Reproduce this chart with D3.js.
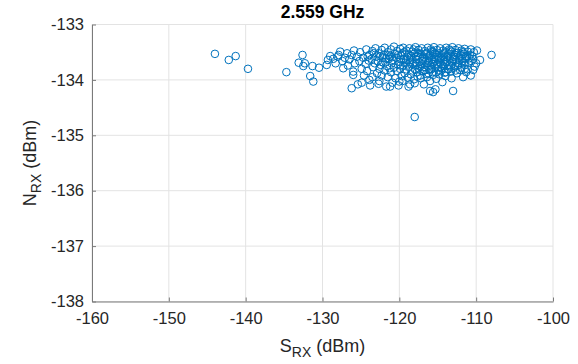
<!DOCTYPE html>
<html>
<head>
<meta charset="utf-8">
<script src="https://cdn.jsdelivr.net/npm/d3@7"></script>
<style>
  body { margin: 0; background: #fff; }
  text { font-family: "Liberation Sans", Arial, sans-serif; }
</style>
</head>
<body>
<div id="chart"></div>
<script>
// axis ticks
const xTicks = [-160, -150, -140, -130, -120, -110, -100];
const yTicks = [-138, -137, -136, -135, -134, -133];

// sparse points on the left
const tailPoints = [
  [-144.0, -133.53], [-142.2, -133.64], [-141.3, -133.57], [-139.7, -133.80],
  [-134.7, -133.86], [-133.1, -133.69], [-132.6, -133.55], [-132.3, -133.70],
  [-132.5, -133.75], [-131.3, -133.75], [-131.6, -133.93], [-131.2, -134.03],
  [-130.45, -133.78], [-129.3, -133.64], [-129.45, -133.73], [-129.0, -133.57],
  [-128.0, -133.58], [-127.7, -133.49], [-127.1, -133.60], [-126.2, -133.55],
  [-127.3, -133.79], [-126.0, -133.91], [-128.6, -133.62], [-128.3, -133.70]
];

// main cluster
const clusterPoints = [
  [-127.9, -133.55], [-127.4, -133.66], [-126.8, -133.52], [-126.7, -133.74], [-126.5, -133.63],
  [-125.9, -133.47], [-125.8, -133.70], [-126.0, -133.85], [-125.5, -133.58], [-125.4, -134.08],
  [-125.1, -133.50], [-125.2, -133.66], [-124.9, -133.80], [-124.7, -133.60], [-124.6, -133.92],
  [-124.3, -133.45], [-124.4, -133.71], [-124.2, -133.84], [-123.9, -133.55], [-124.0, -133.65],
  [-123.8, -134.10], [-123.5, -133.48], [-123.6, -133.62], [-123.4, -133.77], [-123.5, -133.95],
  [-123.1, -133.43], [-123.0, -133.58], [-123.2, -133.70], [-122.9, -133.88], [-122.7, -133.52],
  [-122.8, -133.66], [-122.6, -133.80], [-122.7, -134.07], [-122.3, -133.46], [-122.2, -133.60],
  [-122.4, -133.73], [-122.3, -133.92], [-121.9, -133.42], [-122.0, -133.55], [-121.8, -133.68],
  [-121.9, -133.83], [-121.7, -134.12], [-121.5, -133.50], [-121.4, -133.62], [-121.6, -133.75],
  [-121.5, -133.95], [-121.1, -133.45], [-121.2, -133.58], [-121.0, -133.70], [-121.1, -133.86],
  [-120.9, -134.05], [-120.7, -133.40], [-120.6, -133.53], [-120.8, -133.64], [-120.7, -133.78],
  [-120.5, -133.97], [-120.3, -133.48], [-120.4, -133.60], [-120.2, -133.72], [-120.3, -133.84],
  [-120.1, -134.10], [-119.9, -133.44], [-119.8, -133.56], [-120.0, -133.67], [-119.9, -133.80],
  [-119.7, -133.93], [-119.5, -133.42], [-119.6, -133.52], [-119.4, -133.62], [-119.5, -133.74],
  [-119.3, -133.88], [-119.6, -134.02], [-119.1, -133.47], [-119.0, -133.58], [-119.2, -133.69],
  [-119.1, -133.81], [-118.9, -133.96], [-118.7, -133.43], [-118.8, -133.54], [-118.6, -133.64],
  [-118.7, -133.76], [-118.5, -133.90], [-118.8, -134.12], [-118.3, -133.49], [-118.4, -133.60],
  [-118.2, -133.71], [-118.3, -133.83], [-118.1, -133.99], [-117.9, -133.41], [-118.0, -133.52],
  [-117.8, -133.63], [-117.9, -133.74], [-117.7, -133.86], [-118.0, -134.06], [-117.5, -133.46],
  [-117.6, -133.57], [-117.4, -133.68], [-117.5, -133.79], [-117.3, -133.92], [-117.1, -133.43],
  [-117.2, -133.53], [-117.0, -133.62], [-117.1, -133.72], [-116.9, -133.84], [-117.2, -133.97],
  [-116.7, -133.48], [-116.8, -133.58], [-116.6, -133.67], [-116.7, -133.77], [-116.5, -133.89],
  [-116.8, -134.08], [-116.3, -133.42], [-116.4, -133.51], [-116.2, -133.61], [-116.3, -133.70],
  [-116.1, -133.81], [-116.4, -133.95], [-115.9, -133.45], [-116.0, -133.55], [-115.8, -133.64],
  [-115.9, -133.74], [-115.7, -133.86], [-116.0, -134.02], [-115.5, -133.41], [-115.6, -133.50],
  [-115.4, -133.59], [-115.5, -133.68], [-115.3, -133.78], [-115.6, -133.91], [-115.1, -133.46],
  [-115.2, -133.55], [-115.0, -133.63], [-115.1, -133.72], [-114.9, -133.83], [-115.2, -133.98],
  [-114.7, -133.43], [-114.8, -133.52], [-114.6, -133.60], [-114.7, -133.69], [-114.5, -133.79],
  [-114.8, -133.90], [-114.3, -133.47], [-114.4, -133.56], [-114.2, -133.65], [-114.3, -133.75],
  [-114.1, -133.87], [-114.4, -134.04], [-113.9, -133.42], [-114.0, -133.50], [-113.8, -133.59],
  [-113.9, -133.68], [-113.7, -133.80], [-114.0, -133.93], [-113.5, -133.45], [-113.6, -133.54],
  [-113.4, -133.63], [-113.5, -133.73], [-113.3, -133.85], [-113.1, -133.41], [-113.2, -133.49],
  [-113.0, -133.58], [-113.1, -133.67], [-112.9, -133.78], [-113.2, -133.97], [-112.7, -133.46],
  [-112.8, -133.55], [-112.6, -133.64], [-112.7, -133.75], [-112.5, -133.88], [-112.3, -133.43],
  [-112.4, -133.51], [-112.2, -133.60], [-112.3, -133.70], [-112.1, -133.82], [-111.9, -133.47],
  [-112.0, -133.56], [-111.8, -133.66], [-111.9, -133.78], [-111.7, -133.95], [-111.5, -133.44],
  [-111.6, -133.53], [-111.4, -133.62], [-111.5, -133.73], [-111.3, -133.86], [-111.1, -133.49],
  [-111.2, -133.58], [-111.0, -133.69], [-111.1, -133.81], [-110.7, -133.45], [-110.8, -133.55],
  [-110.6, -133.66], [-110.7, -133.92], [-110.3, -133.50], [-110.4, -133.62], [-110.2, -133.76],
  [-109.9, -133.47], [-110.0, -133.70], [-109.5, -133.64], [-108.0, -133.55],
  [-119.35, -133.50], [-118.15, -133.45], [-117.35, -133.60], [-116.55, -133.53], [-115.75, -133.48],
  [-114.95, -133.58], [-114.15, -133.52], [-113.35, -133.47], [-112.55, -133.52], [-111.75, -133.50],
  [-120.15, -133.55], [-121.35, -133.55], [-117.75, -133.70], [-116.15, -133.66], [-114.55, -133.72],
  [-112.95, -133.62], [-111.35, -133.58], [-118.55, -133.68], [-115.35, -133.52], [-113.75, -133.65],
  [-117.62, -133.51], [-116.93, -133.66], [-116.12, -133.57], [-115.48, -133.63], [-114.83, -133.61],
  [-114.22, -133.59], [-113.64, -133.57], [-112.87, -133.58], [-112.18, -133.65], [-111.61, -133.69],
  [-117.28, -133.76], [-116.41, -133.74], [-115.67, -133.71], [-114.91, -133.77], [-114.08, -133.72],
  [-113.27, -133.76], [-112.42, -133.74], [-111.83, -133.62], [-110.92, -133.61], [-110.53, -133.57],
  [-119.78, -133.63], [-119.12, -133.64], [-118.47, -133.57], [-117.83, -133.58], [-121.72, -133.61],
  [-120.94, -133.59], [-122.51, -133.57], [-123.32, -133.52], [-124.12, -133.58], [-118.94, -133.72],
  [-116.78, -133.82], [-115.86, -133.81], [-114.62, -133.84], [-113.58, -133.81], [-112.67, -133.83],
  [-117.96, -133.81], [-119.86, -133.74], [-121.28, -133.79], [-122.13, -133.68], [-115.22, -133.87],
  [-113.96, -133.86], [-111.48, -133.80], [-110.38, -133.82], [-116.21, -133.88], [-117.63, -133.94]
];

// lower outliers
const lowPoints = [
  [-126.2, -134.15], [-124.9, -134.05], [-123.9, -134.00], [-122.6, -134.02], [-121.2, -134.12],
  [-120.0, -134.03], [-118.6, -134.08], [-116.0, -134.20], [-115.6, -134.22], [-115.3, -134.17],
  [-113.0, -134.20], [-118.0, -134.67]
];

const allPoints = tailPoints.concat(clusterPoints, lowPoints);

const W = 578, H = 364;
const margin = {top: 24.5, right: 25, bottom: 62.5, left: 92};
const width = W - margin.left - margin.right,
      height = H - margin.top - margin.bottom;

const svg = d3.select("#chart").append("svg")
    .attr("width", W)
    .attr("height", H);

const g = svg.append("g")
    .attr("transform", `translate(${margin.left},${margin.top})`);

const x = d3.scaleLinear().domain([-160, -100]).range([0, width]);
const y = d3.scaleLinear().domain([-138, -133]).range([height, 0]);

// grid
g.append("g").selectAll("line")
  .data(xTicks)
  .join("line")
    .attr("x1", d => x(d)).attr("x2", d => x(d))
    .attr("y1", 0).attr("y2", height)
    .attr("stroke", "#e3e3e3").attr("stroke-width", 1);
g.append("g").selectAll("line")
  .data(yTicks)
  .join("line")
    .attr("x1", 0).attr("x2", width)
    .attr("y1", d => y(d)).attr("y2", d => y(d))
    .attr("stroke", "#e3e3e3").attr("stroke-width", 1);

// axes (ticks inside like matlab)
const fmt = d => String(d);
const xAxis = g.append("g")
    .attr("transform", `translate(0,${height})`)
    .call(d3.axisBottom(x).tickValues(xTicks).tickFormat(fmt).tickSizeInner(-4).tickSizeOuter(0).tickPadding(8));
const yAxis = g.append("g")
    .call(d3.axisLeft(y).tickValues(yTicks).tickFormat(fmt).tickSizeInner(-4).tickSizeOuter(0).tickPadding(8));

[xAxis, yAxis].forEach(a => {
  a.select(".domain").attr("stroke", "#7a7a7a");
  a.selectAll(".tick line").attr("stroke", "#7a7a7a");
  a.selectAll(".tick text")
    .attr("fill", "#262626")
    .style("font-size", "16.5px")
    .style("font-family", "'Liberation Sans', Arial, sans-serif");
});
xAxis.selectAll(".tick text").attr("dy", "0.85em");

// points
g.append("g").selectAll("circle")
  .data(allPoints)
  .join("circle")
    .attr("cx", d => x(d[0]))
    .attr("cy", d => y(d[1]))
    .attr("r", 3.8)
    .attr("fill", "none")
    .attr("stroke", "#0072BD")
    .attr("stroke-width", 1);

// title
svg.append("text")
    .attr("x", margin.left + width / 2)
    .attr("y", 18)
    .attr("text-anchor", "middle")
    .style("font-size", "17.5px")
    .style("font-weight", "bold")
    .attr("fill", "#000")
    .text("2.559 GHz");

// x label
const xl = svg.append("text")
    .attr("x", margin.left + width / 2)
    .attr("y", 352)
    .attr("text-anchor", "middle")
    .attr("fill", "#262626")
    .style("font-size", "18px");
xl.append("tspan").text("S");
xl.append("tspan").attr("dy", 5).style("font-size", "14px").text("RX");
xl.append("tspan").attr("dy", -5).text(" (dBm)");

// y label
const yl = svg.append("text")
    .attr("transform", `translate(36,${margin.top + height / 2}) rotate(-90)`)
    .attr("text-anchor", "middle")
    .attr("fill", "#262626")
    .style("font-size", "18px");
yl.append("tspan").text("N");
yl.append("tspan").attr("dy", 5).style("font-size", "14px").text("RX");
yl.append("tspan").attr("dy", -5).text(" (dBm)");
</script>
</body>
</html>
